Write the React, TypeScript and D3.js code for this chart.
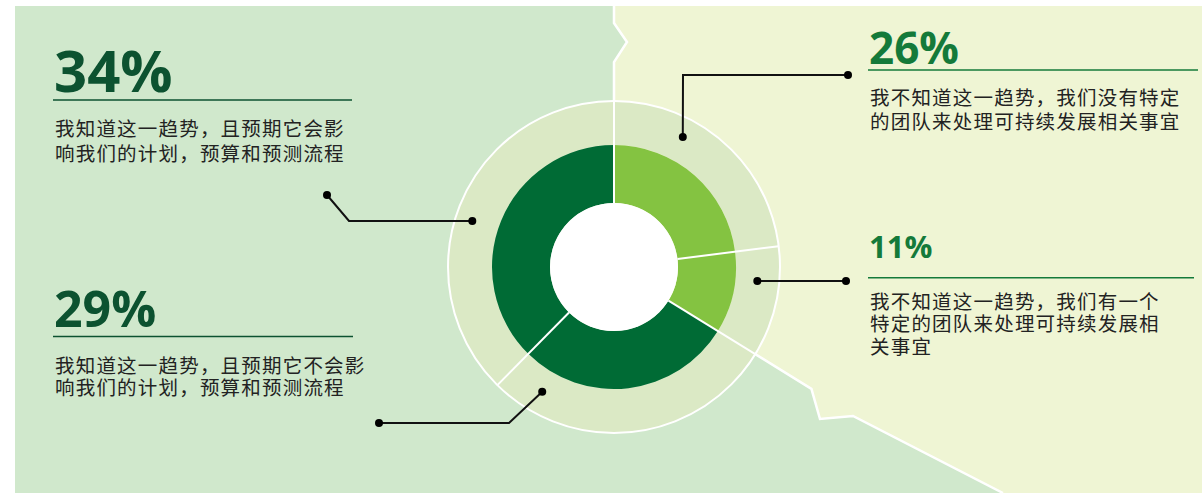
import React from 'react';
import * as d3 from 'd3';

// printed percentages, clockwise from 12 o'clock
const labels = ['26%', '11%', '29%', '34%'];
// angular share of each slice as drawn in the source (not equal to the printed labels)
const drawnShare = [23, 10.8, 28.6, 37.6];
const descriptions = [
  ['我不知道这一趋势，我们没有特定', '的团队来处理可持续发展相关事宜'],
  ['我不知道这一趋势，我们有一个', '特定的团队来处理可持续发展相', '关事宜'],
  ['我知道这一趋势，且预期它不会影', '响我们的计划，预算和预测流程'],
  ['我知道这一趋势，且预期它会影', '响我们的计划，预算和预测流程'],
];

const W = 1202;
const H = 493;
const cx = 614;
const cy = 267;
const holeR = 64;
const innerR = 122;
const outerR = 166;

const sliceColors = ['#84c341', '#84c341', '#006b35', '#006b35'];

// where each label sits and how its leader line bends
const labelLayout = [
  { x: 869, pctY: 63.5, pctSize: 44, ruleY: 70, ruleX2: 1198, textY: 104.5, lineH: 24, color: '#147a3a',
    anchorDeg: 27.9, anchorR: 147, bends: [[683, 75], [848, 75]] },
  { x: 869, pctY: 257.7, pctSize: 31, ruleY: 277.7, ruleX2: 1194, textY: 308.5, lineH: 22.5, color: '#147a3a',
    anchorDeg: 95.6, anchorR: 144, bends: [[846, 281]] },
  { x: 54, pctY: 326.5, pctSize: 50, ruleY: 336.5, ruleX2: 353, textY: 372.5, lineH: 22.5, color: '#0c5230',
    anchorDeg: 209.9, anchorR: 144, bends: [[509, 423], [379, 423]] },
  { x: 54, pctY: 91.5, pctSize: 58, ruleY: 100, ruleX2: 352, textY: 136, lineH: 24.5, color: '#0c5230',
    anchorDeg: 288, anchorR: 149, bends: [[349, 221], [327, 195]] },
];

export default function App() {
  const pie = d3.pie<number>().sort(null).value((d) => d);
  const slices = pie(drawnShare);
  const arc = d3.arc<d3.PieArcDatum<number>>().innerRadius(holeR).outerRadius(innerR);
  const ring = d3.arc()({ innerRadius: innerR, outerRadius: outerR, startAngle: 0, endAngle: 2 * Math.PI }) || '';

  const rad = (deg: number) => (deg * Math.PI) / 180;
  const boundaryAngle = slices[1].endAngle;
  const [bx, by] = d3.pointRadial(boundaryAngle, 232);

  // yellow panel on the right, split from the green one by a white zig-zag
  const split: [number, number][] = [
    [614, 6], [614, 23], [627, 42], [614, 62], [cx, cy],
    [cx + bx, cy + by], [820, 419], [853, 416], [1003, H],
  ];
  const line = d3.line();
  const yellowPanel = line([...split, [W, H], [W, 6]]) + 'Z';

  const boundaries = slices.map((s) => s.startAngle);

  return (
    <svg width={W} height={H} style={{ position: 'absolute', left: 0, top: 0, display: 'block' }}>
      <rect x={0} y={0} width={W} height={H} fill="#ffffff" />
      <rect x={15} y={6} width={W - 15} height={H - 6} fill="#d0e8cc" />
      <path d={yellowPanel} fill="#eff5d4" />
      <path d={line(split) || ''} fill="none" stroke="#ffffff" strokeWidth={2.5} strokeLinejoin="miter" />

      <g transform={`translate(${cx},${cy})`}>
        <path d={ring} fill="#dbe9c5" />
        <circle r={outerR} fill="none" stroke="#ffffff" strokeWidth={2} />
        {slices.map((s, i) => (
          <path key={i} d={arc(s) || ''} fill={sliceColors[i]} />
        ))}
        {boundaries.map((a, i) => {
          const [x1, y1] = d3.pointRadial(a, holeR);
          const [x2, y2] = d3.pointRadial(a, outerR);
          return <line key={i} x1={x1} y1={y1} x2={x2} y2={y2} stroke="#ffffff" strokeWidth={2} />;
        })}
        <circle r={holeR} fill="#ffffff" />
      </g>

      {labelLayout.map((l, i) => {
        const [ax, ay] = d3.pointRadial(rad(l.anchorDeg), l.anchorR);
        const pts: [number, number][] = [[cx + ax, cy + ay], ...(l.bends as [number, number][])];
        const end = pts[pts.length - 1];
        return (
          <g key={i}>
            <path d={line(pts) || ''} fill="none" stroke="#111111" strokeWidth={2} />
            <circle cx={pts[0][0]} cy={pts[0][1]} r={4} fill="#000000" />
            <circle cx={end[0]} cy={end[1]} r={4} fill="#000000" />
            <text x={l.x} y={l.pctY} fill={l.color} fontFamily="'Open Sans', sans-serif" fontWeight={700} fontSize={l.pctSize}>
              {labels[i]}
            </text>
            <line x1={l.x - 1} x2={l.ruleX2} y1={l.ruleY} y2={l.ruleY} stroke={l.color} strokeWidth={1.5} />
            {descriptions[i].map((t, j) => (
              <text key={j} x={l.x + 1} y={l.textY + j * l.lineH} fill="#222222"
                fontFamily="'Noto Sans CJK SC', sans-serif" fontSize={19.5} letterSpacing={1.2}>
                {t}
              </text>
            ))}
          </g>
        );
      })}
    </svg>
  );
}
